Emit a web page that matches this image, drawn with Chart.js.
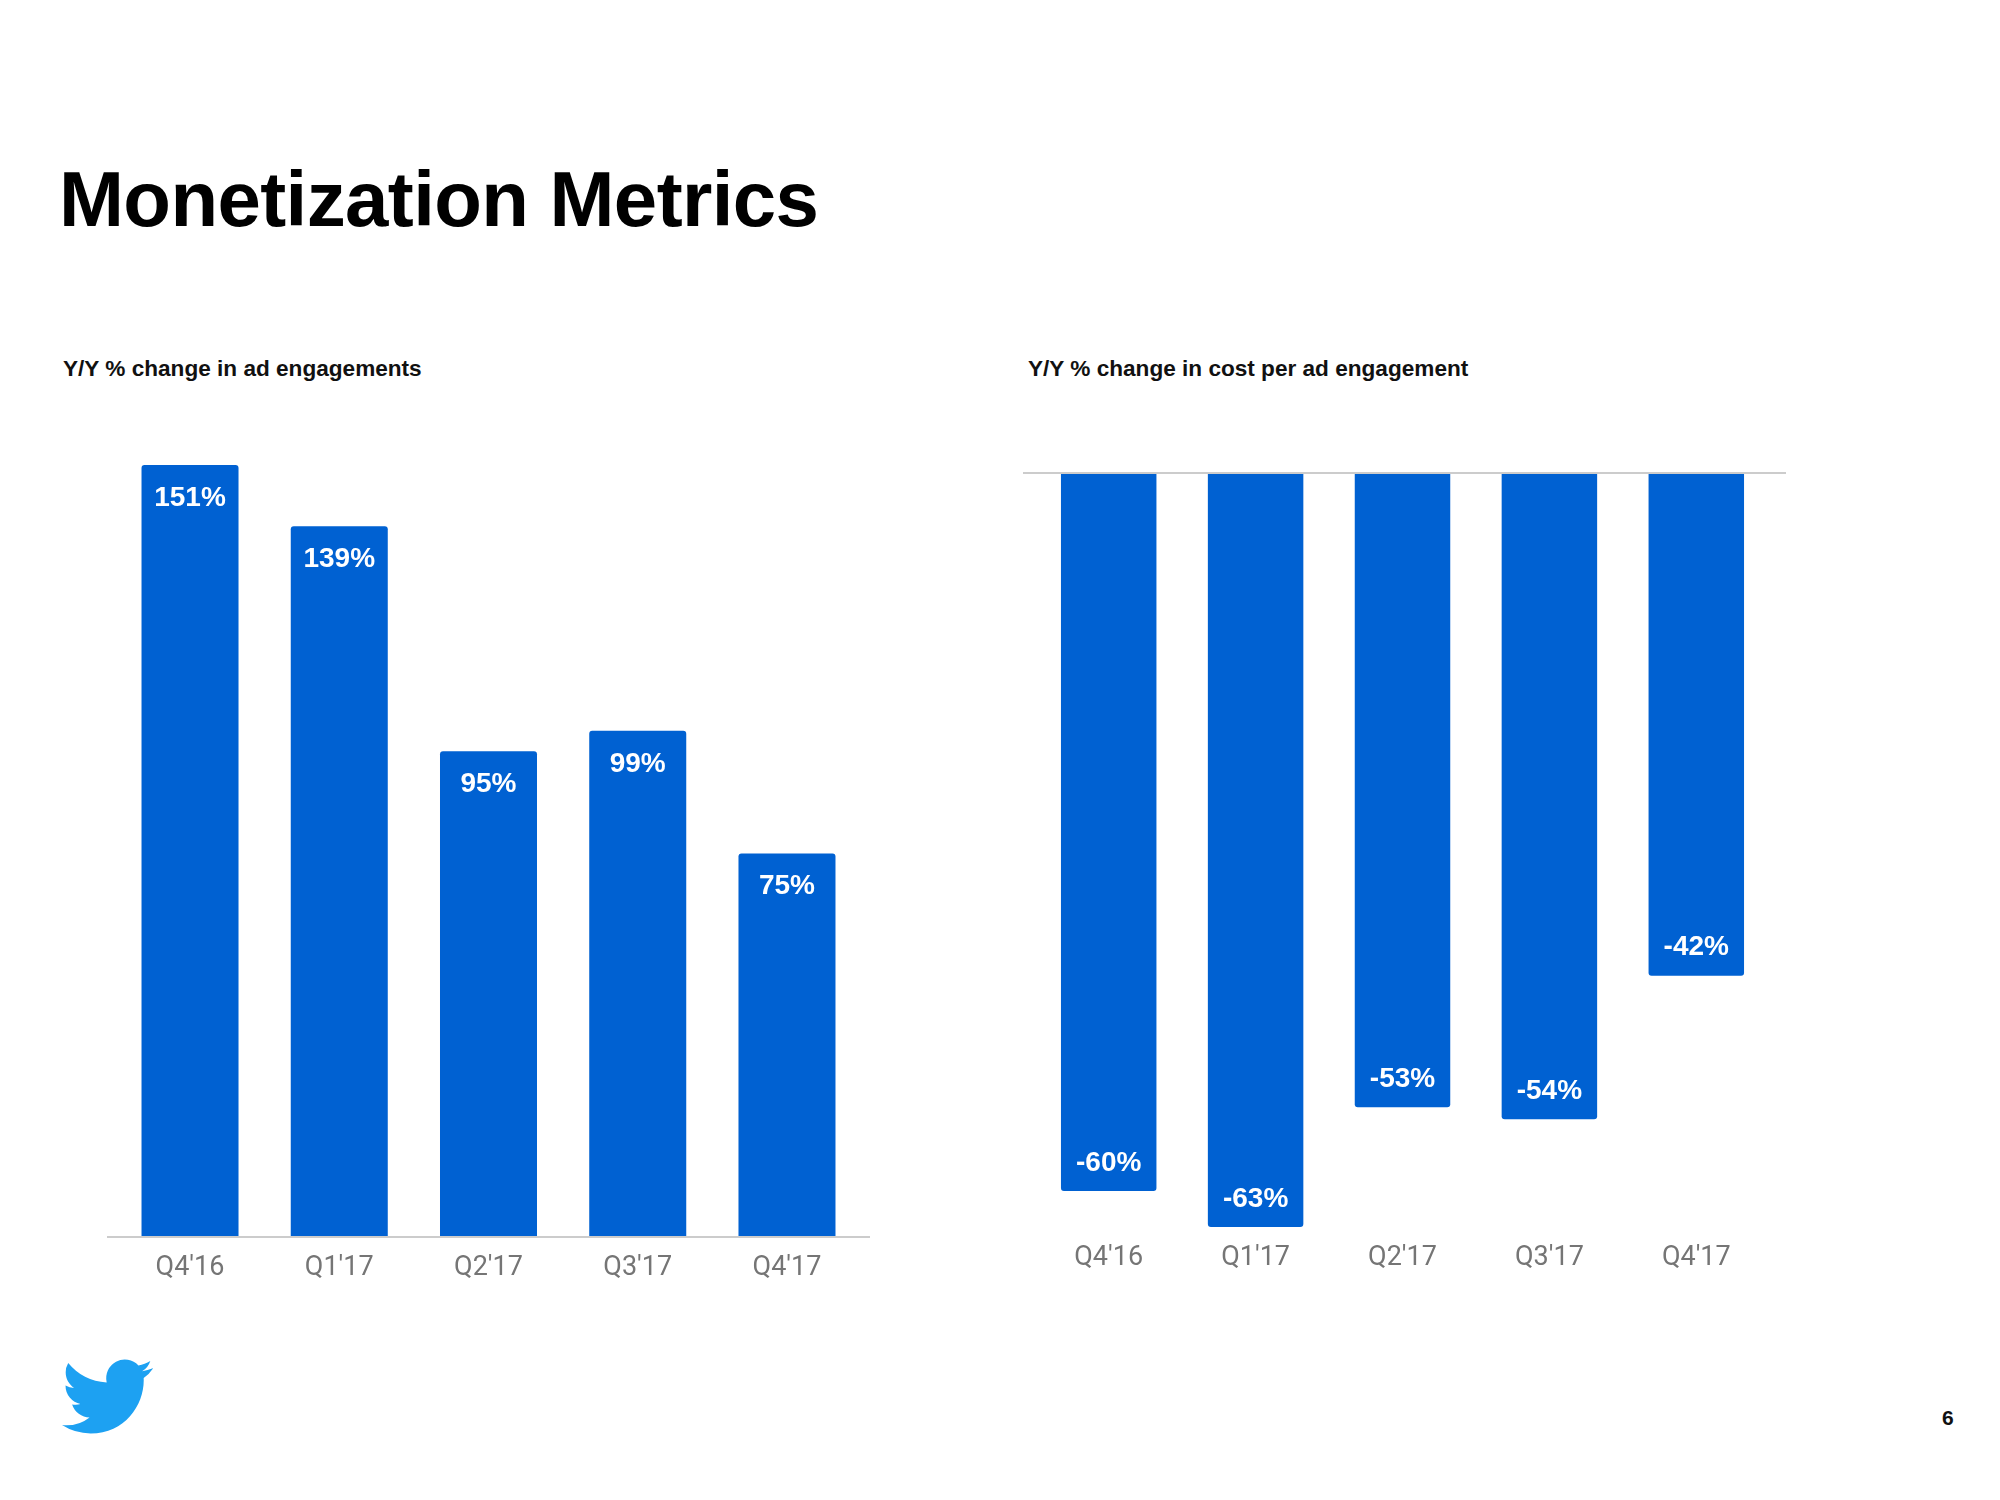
<!DOCTYPE html>
<html>
<head>
<meta charset="utf-8">
<script src="https://cdn.jsdelivr.net/npm/chart.js@4.4.1/dist/chart.umd.min.js"></script>
<style>
  html, body { margin: 0; padding: 0; background: #ffffff; width: 2000px; height: 1500px; overflow: hidden; }
  body { position: relative; font-family: "Liberation Sans", Arial, sans-serif; }
  .title { position: absolute; left: 59px; top: 154px; font-size: 78px; font-weight: bold; color: #000; line-height: normal; white-space: nowrap; letter-spacing: -0.6px; }
  .sub { position: absolute; top: 356px; font-size: 22.6px; font-weight: bold; color: #111; line-height: normal; white-space: nowrap; }
  .pagenum { position: absolute; left: 1942px; top: 1406px; font-size: 21px; font-weight: bold; color: #111; line-height: normal; }
  canvas { position: absolute; top: 0; }
  #logo { position: absolute; left: 62px; top: 1351px; width: 91px; height: 91px; }
</style>
</head>
<body>
<div class="title">Monetization Metrics</div>
<div class="sub" style="left:63px;">Y/Y % change in ad engagements</div>
<div class="sub" style="left:1028px;">Y/Y % change in cost per ad engagement</div>
<canvas id="c1" width="960" height="1320" style="left:0px;"></canvas>
<canvas id="c2" width="1040" height="1320" style="left:960px;"></canvas>
<svg id="logo" viewBox="0 0 24 24"><path fill="#1DA1F2" d="M23.953 4.57a10 10 0 01-2.825.775 4.958 4.958 0 002.163-2.723c-.951.555-2.005.959-3.127 1.184a4.92 4.92 0 00-8.384 4.482C7.690 8.095 4.067 6.130 1.640 3.162a4.822 4.822 0 00-.666 2.475c0 1.710.870 3.213 2.188 4.096a4.904 4.904 0 01-2.228-.616v.060a4.923 4.923 0 003.946 4.827 4.996 4.996 0 01-2.212.085 4.936 4.936 0 004.604 3.417 9.867 9.867 0 01-6.102 2.105c-.390 0-.779-.023-1.170-.067a13.995 13.995 0 007.557 2.209c9.053 0 13.998-7.496 13.998-13.985 0-.210 0-.420-.015-.630A9.935 9.935 0 0024 4.590z"/></svg>
<div class="pagenum">6</div>

<script>
// ---- data ----
const quarters = ["Q4'16", "Q1'17", "Q2'17", "Q3'17", "Q4'17"];
const adEngagementChange = [151, 139, 95, 99, 75];
const costPerEngagementChange = [-60, -63, -53, -54, -42];
const leftRange = [0, 151];
const rightRange = [-63, 0];

const BAR_COLOR = '#0061D2';

const baselinePlugin = {
  id: 'baseline',
  afterDatasetsDraw(chart, args, opts) {
    const { ctx, chartArea } = chart;
    const y = Math.round(chart.scales.y.getPixelForValue(0));
    ctx.save();
    ctx.strokeStyle = '#cccccc';
    ctx.lineWidth = 2;
    ctx.beginPath();
    ctx.moveTo(chartArea.left - opts.extLeft, y);
    ctx.lineTo(chartArea.right + opts.extRight, y);
    ctx.stroke();
    ctx.restore();
  }
};

const valueLabelPlugin = {
  id: 'valueLabels',
  afterDatasetsDraw(chart, args, opts) {
    const { ctx } = chart;
    const meta = chart.getDatasetMeta(0);
    const data = chart.data.datasets[0].data;
    ctx.save();
    ctx.fillStyle = '#ffffff';
    ctx.font = 'bold 28px "Liberation Sans", Arial, sans-serif';
    ctx.textAlign = 'center';
    ctx.textBaseline = 'middle';
    meta.data.forEach((bar, i) => {
      const v = data[i];
      const y = v >= 0 ? bar.y + opts.inset : bar.y - opts.inset;
      ctx.fillText(v + '%', bar.x, y);
    });
    ctx.restore();
  }
};

function makeChart(id, values, range, padding, ext, inset) {
  return new Chart(document.getElementById(id), {
    type: 'bar',
    data: {
      labels: quarters,
      datasets: [{
        data: values,
        backgroundColor: BAR_COLOR,
        borderRadius: 3,
        borderSkipped: 'start',
        categoryPercentage: 1.0,
        barPercentage: 0.65
      }]
    },
    options: {
      responsive: false,
      animation: false,
      devicePixelRatio: 1,
      layout: { padding: padding },
      plugins: {
        legend: { display: false },
        tooltip: { enabled: false },
        baseline: ext,
        valueLabels: { inset: inset }
      },
      scales: {
        x: {
          grid: { display: false, drawTicks: false, tickLength: 0 },
          border: { display: false },
          ticks: {
            color: '#757575',
            padding: 15,
            font: { family: 'Roboto', size: 27 }
          }
        },
        y: {
          display: false,
          min: range[0],
          max: range[1]
        }
      }
    },
    plugins: [baselinePlugin, valueLabelPlugin]
  });
}

makeChart('c1', adEngagementChange, leftRange,
  { left: 115.4, right: 98.4, top: 465, bottom: 20.6 },
  { extLeft: 8.4, extRight: 8.4 }, 33);

makeChart('c2', costPerEngagementChange, rightRange,
  { left: 75.25, right: 230.25, top: 473, bottom: 30.6 },
  { extLeft: 12.25, extRight: 16.25 }, 28);
</script>
</body>
</html>
